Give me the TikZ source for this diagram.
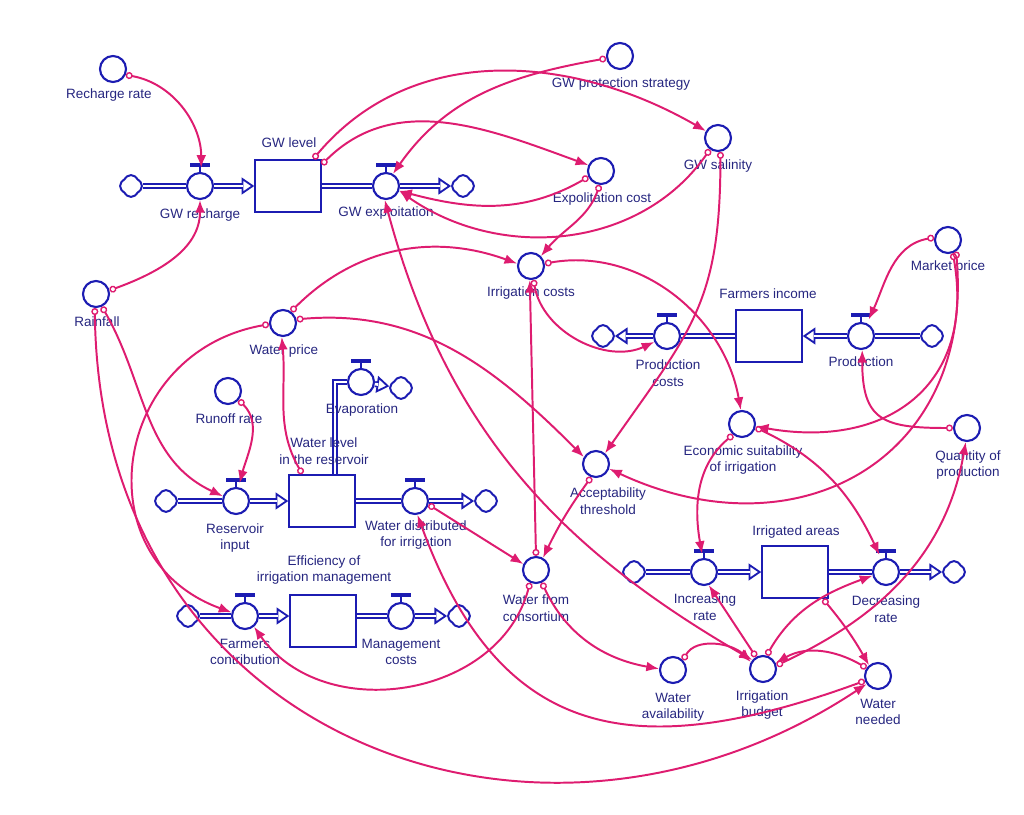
\documentclass[tikz,border=0pt]{standalone}
\usepackage{fontspec}
\setmainfont{Liberation Sans}
\usepackage{tikz}
\usetikzlibrary{positioning,arrows.meta,calc,shapes.symbols}
\definecolor{sdblue}{RGB}{28,28,178}
\definecolor{sdtext}{RGB}{38,38,128}
\definecolor{lnk}{RGB}{222,28,112}

\begin{document}
\begin{tikzpicture}[x=0.025cm, y=0.025cm, font=\fontsize{9.6}{11.7}\selectfont,
    aux/.style={circle, draw=sdblue, fill=white, line width=1.5pt, minimum size=18.5pt, inner sep=0pt},
    stock/.style={rectangle, draw=sdblue, fill=white, line width=1.5pt, minimum width=46.5pt, minimum height=37pt, inner sep=0pt},
    sink/.style={cloud, cloud puffs=4, cloud puff arc=130, aspect=1, draw=sdblue, fill=white, line width=1.4pt, minimum width=15.5pt, minimum height=15.5pt, inner sep=0pt},
    txt/.style={text=sdtext, align=center, inner sep=0pt},
    pipe/.style={draw=sdblue, line width=1.2pt, double=white, double distance=1.9pt},
    link/.style={draw=lnk, line width=1.4pt, {Circle[open, length=5pt, width=5pt, line width=1pt]}-{Latex[length=9pt, width=7pt]}},
    dlink/.style={draw=lnk, line width=1.4pt, {Latex[length=9pt, width=7pt]}-{Latex[length=9pt, width=7pt]}}]
  \useasboundingbox (0,0) rectangle (1024,-814);
  \newcommand{\valve}[3]{%
    \node[aux] (#1) at (#2,-#3) {};
    \draw[sdblue, line width=1.4pt] (#1.north) -- ++(0,5);
    \draw[sdblue, line width=2.8pt] (#1.north) ++(-10,7) -- ++(20,0);
  }
  \newcommand{\flowpipe}[2]{%
    \draw[sdblue, line width=1.2pt, -{Triangle[open, length=9pt, width=12pt, line width=1.3pt]}] (#1) -- (#2);
    \draw[pipe, shorten >=8pt] (#1) -- (#2);
  }

  % stocks
  \node[stock] (gwlevel) at (288,-186) {};
  \node[stock] (finc) at (769,-336) {};
  \node[stock] (wlevel) at (322,-501) {};
  \node[stock] (eff) at (323,-621) {};
  \node[stock] (irrarea) at (795,-572) {};

  % valves
  \valve{gwrech}{200}{186}
  \valve{gwexpl}{386}{186}
  \valve{prodcost}{667}{336}
  \valve{prod}{861}{336}
  \valve{evap}{361}{382}
  \valve{resin}{236}{501}
  \valve{wdist}{415}{501}
  \valve{fcontrib}{245}{616}
  \valve{mgmt}{401}{616}
  \valve{incrate}{704}{572}
  \valve{decrate}{886}{572}

  % sources and sinks
  \foreach \n/\x/\y in {cgw1/131/186, cgw2/463/186, cfi1/603/336, cfi2/932/336, cev/401/388,
      cwl1/166/501, cwl2/486/501, cef1/188/616, cef2/459/616, cia1/634/572, cia2/954/572}
    \node[sink] (\n) at (\x,-\y) {};

  % auxiliaries
  \foreach \n/\x/\y in {rechrate/113/69, gwprot/620/56, gwsal/718/138, explcost/601/171,
      irrcost/531/266, mktprice/948/240, rain/96/294, wprice/283/323, runoff/228/391,
      econsuit/742/424, qprod/967/428, accept/596/464, wcons/536/570,
      wavail/673/670, irrbudget/763/669, wneed/878/676}
    \node[aux] (\n) at (\x,-\y) {};

  % pipes
  \draw[pipe] (cgw1) -- (gwrech);
  \flowpipe{gwrech}{gwlevel}
  \draw[pipe] (gwlevel) -- (gwexpl);
  \flowpipe{gwexpl}{cgw2}
  \draw[pipe] (cfi2) -- (prod);
  \flowpipe{prod}{finc}
  \draw[pipe] (finc) -- (prodcost);
  \flowpipe{prodcost}{cfi1}
  \draw[pipe] (cwl1) -- (resin);
  \flowpipe{resin}{wlevel}
  \draw[pipe] (wlevel) -- (wdist);
  \flowpipe{wdist}{cwl2}
  \draw[pipe] ($(wlevel.north)+(13,0)$) |- (evap);
  \flowpipe{evap}{cev}
  \draw[pipe] (cef1) -- (fcontrib);
  \flowpipe{fcontrib.east}{fcontrib.east -| eff.west}
  \draw[pipe] (mgmt.west -| eff.east) -- (mgmt);
  \flowpipe{mgmt}{cef2}
  \draw[pipe] (cia1) -- (incrate);
  \flowpipe{incrate}{irrarea}
  \draw[pipe] (irrarea) -- (decrate);
  \flowpipe{decrate}{cia2}

  % labels
  \node[txt] (lrechrate) at (109,-95) {Recharge rate};
  \node[txt] (lgwrech) at (200,-215) {GW recharge};
  \node[txt] (lgwlevel) at (289,-143) {GW level};
  \node[txt] (lgwexpl) at (386,-213) {GW exploitation};
  \node[txt] (lgwprot) at (621,-84) {GW protection strategy};
  \node[txt] (lgwsal) at (718,-166) {GW salinity};
  \node[txt] (lexplcost) at (602,-199) {Expolitation cost};
  \node[txt] (lirrcost) at (531,-293) {Irrigation costs};
  \node[txt] (lmktprice) at (948,-267) {Market price};
  \node[txt] (lfinc) at (768,-294) {Farmers income};
  \node[txt] (lprod) at (861,-362) {Production};
  \node[txt] (lprodcost) at (668,-373) {Production\\costs};
  \node[txt] (lrain) at (97,-322) {Rainfall};
  \node[txt] (lwprice) at (284,-351) {Water price};
  \node[txt] (lrunoff) at (229,-419) {Runoff rate};
  \node[txt] (levap) at (362,-410) {Evaporation};
  \node[txt] (lwlevel) at (324,-451) {Water level\\in the reservoir};
  \node[txt] (lresin) at (235,-538) {Reservoir\\input};
  \node[txt] (lwdist) at (416,-535) {Water distributed\\for irrigation};
  \node[txt] (leff) at (324,-570) {Efficiency of\\irrigation management};
  \node[txt] (lfcontrib) at (245,-652) {Farmers\\contribution};
  \node[txt] (lmgmt) at (401,-652) {Management\\costs};
  \node[txt] (leconsuit) at (743,-460) {Economic suitability\\of irrigation};
  \node[txt] (lqprod) at (968,-465) {Quantity of\\production};
  \node[txt] (laccept) at (608,-501) {Acceptability\\threshold};
  \node[txt] (lwcons) at (536,-608) {Water from\\consortium};
  \node[txt] (lirrarea) at (796,-532) {Irrigated areas};
  \node[txt] (lincrate) at (705,-607) {Increasing\\rate};
  \node[txt] (ldecrate) at (886,-609) {Decreasing\\rate};
  \node[txt] (lwavail) at (673,-707) {Water\\availability};
  \node[txt] (lirrbudget) at (762,-705) {Irrigation\\budget};
  \node[txt] (lwneed) at (878,-712) {Water\\needed};

  % links
  \draw[link, shorten >=3pt] (rechrate.-25) to[out=-10, in=90] (gwrech.85);
  \draw[link] (rain.15) to[out=20, in=-90] (gwrech.south);
  \draw[link] ([xshift=-6pt]gwlevel.north east) to[out=50, in=150] (gwsal.150);
  \draw[link] ([yshift=-4pt]gwlevel.north east) to[out=45, in=160] (explcost.155);
  \draw[link] (gwprot.190) to[out=190, in=55] (gwexpl.60);
  \draw[link] (explcost.205) to[out=210, in=-15] (gwexpl.-20);
  \draw[link] (gwsal.235) to[out=235, in=-35] (gwexpl.-20);
  \draw[link] (explcost.-95) to[out=-110, in=50] (irrcost.45);
  \draw[link] (wprice.55) to[out=45, in=160] (irrcost.170);
  \draw[link] (irrcost.-80) to[out=-80, in=205] (prodcost.205);
  \draw[link] (irrcost.10) to[out=10, in=100] (econsuit.95);
  \draw[link] (wcons.north) -- (irrcost.-95);
  \draw[link] (gwsal.-80) to[out=-90, in=55, looseness=1.2] (accept.50);
  \draw[link] (rain.-65) to[out=-60, in=155] (resin.160);
  \draw[link, shorten >=3pt] (runoff.-40) to[out=-45, in=75] (resin.80);
  \draw[link] ([xshift=10pt]wlevel.north west) to[out=120, in=-85] (wprice.-95);
  \draw[link] (wprice.185) to[out=190, in=160, looseness=1.4] (fcontrib.165);
  \draw[link] (wprice.15) to[out=5, in=135] (accept.150);
  \draw[link] (accept.-110) to[bend right=5] (wcons.60);
  \draw[link] (wdist.-15) -- (wcons.155);
  \draw[link] (wcons.-115) to[out=-105, in=-55, looseness=1.1] (fcontrib.-50);
  \draw[link] (wcons.-65) to[out=-65, in=170] (wavail.175);
  \draw[link] (wavail.45) to[out=60, in=135] (irrbudget.150);
  \draw[dlink] (irrbudget.140) to[out=150, in=-75] (gwexpl.-95);
  \draw[link] (irrbudget.120) -- (incrate.-70);
  \draw[link] (irrbudget.75) to[out=60, in=200] (decrate.195);
  \draw[link] ([xshift=-4pt]irrarea.south east) to[bend left=5] (wneed.130);
  \draw[link] (wneed.145) to[out=150, in=30] (irrbudget.25);
  \draw[link] (irrbudget.15) to[out=25, in=-100] (qprod.-95);
  \draw[link] (wneed.200) to[out=200, in=-70, looseness=1.3] (wdist.-80);
  \draw[link] (rain.-95) .. controls +(5,-433) and +(-327,-217) .. (wneed.215);
  \draw[link, shorten >=3pt] (mktprice.170) to[out=190, in=65] (prod.65);
  \draw[link] (mktprice.-70) to[out=-80, in=-10, looseness=1.3] (econsuit.-10);
  \draw[link] (mktprice.-55) to[out=-85, in=-25, looseness=1.3] (accept.-20);
  \draw[link] (qprod.180) to[out=180, in=-90, looseness=1.5] (prod.-85);
  \draw[link, shorten >=3pt] (econsuit.-130) to[out=-140, in=100] (incrate.95);
  \draw[link, shorten >=3pt] (econsuit.-15) to[out=-25, in=115] (decrate.110);
\end{tikzpicture}
\end{document}
